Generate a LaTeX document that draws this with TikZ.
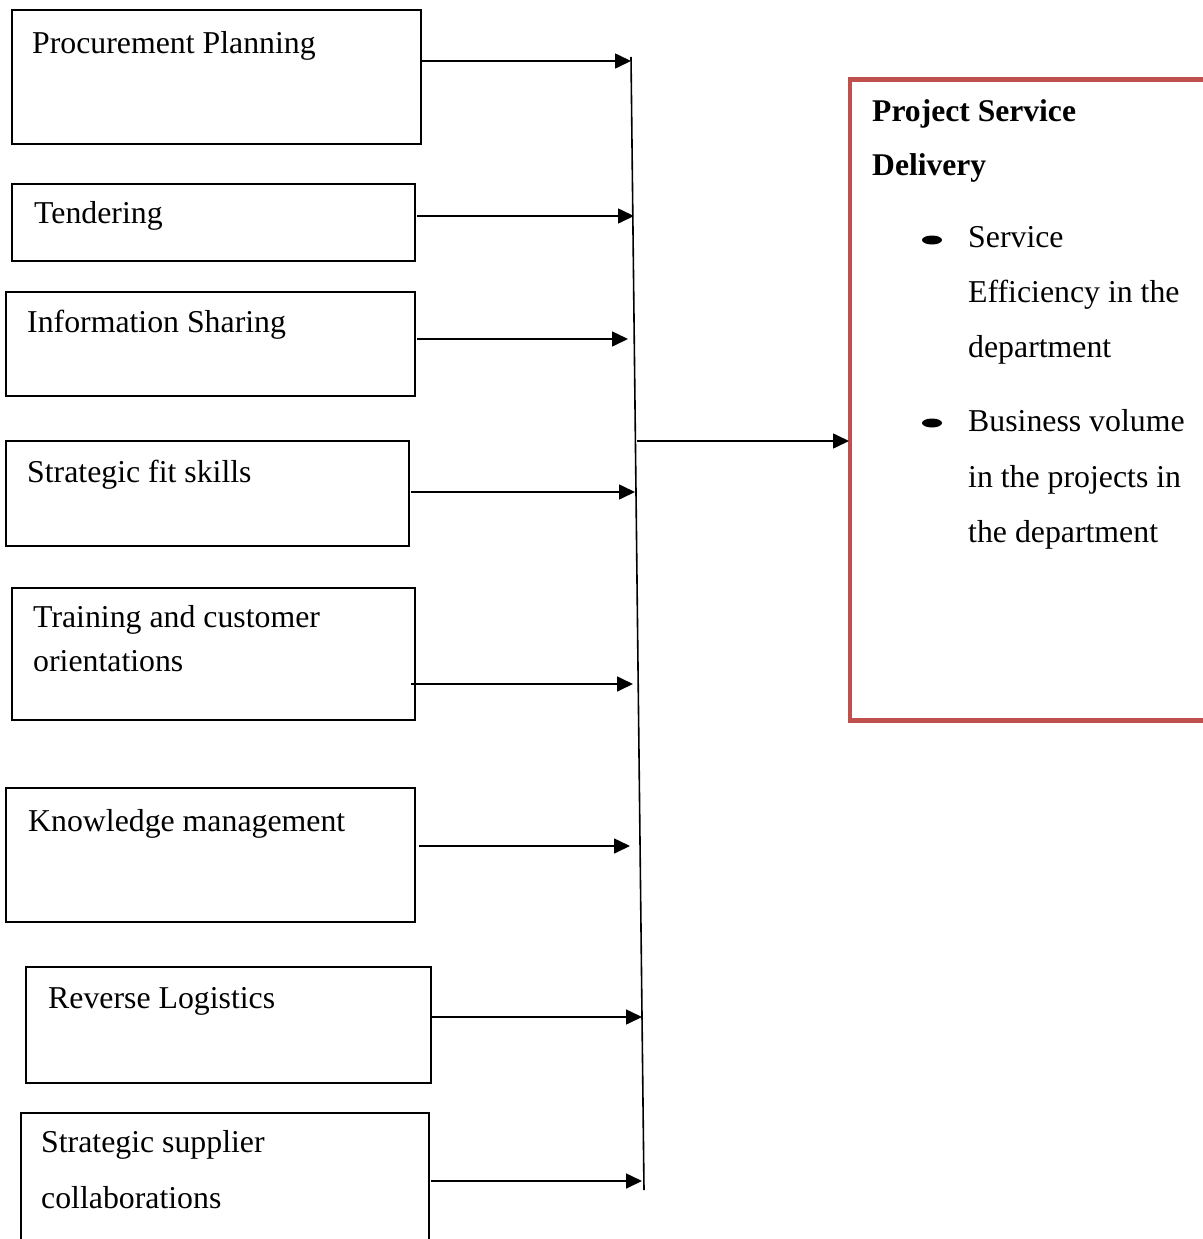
\documentclass[tikz,border=0pt]{standalone}
\usepackage{fontspec}
\setmainfont{Liberation Serif}
\usetikzlibrary{arrows.meta,shapes.geometric}
\definecolor{redbox}{HTML}{C0504D}
\begin{document}
\begin{tikzpicture}[x=1pt,y=-1pt,
 box/.style={draw,line width=1.6pt,rectangle,inner sep=0,outer sep=0,anchor=north west},
 txt/.style={anchor=base west,inner sep=0,font=\fontsize{31.8}{40}\selectfont},
 btxt/.style={anchor=base west,inner sep=0,font=\fontsize{31.6}{40}\selectfont\bfseries},
 arr/.style={line width=1.6pt,-{Triangle[length=16pt,width=15pt]}},
 bul/.style={ellipse,fill=black,minimum width=20pt,minimum height=9pt,inner sep=0}
]
\useasboundingbox (0,0) rectangle (1202,1239);
% boxes
\node[box,minimum width=409pt,minimum height=134pt] (b1) at (12,10) {};
\node[box,minimum width=403pt,minimum height=77pt] (b2) at (12,184) {};
\node[box,minimum width=409pt,minimum height=104pt] (b3) at (6,292) {};
\node[box,minimum width=403pt,minimum height=105pt] (b4) at (6,441) {};
\node[box,minimum width=403pt,minimum height=132pt] (b5) at (12,588) {};
\node[box,minimum width=409pt,minimum height=134pt] (b6) at (6,788) {};
\node[box,minimum width=405pt,minimum height=116pt] (b7) at (26,967) {};
\node[box,minimum width=408pt,minimum height=150pt] (b8) at (21,1113) {};
% texts
\node[txt] (t1) at (32,53) {Procurement Planning};
\node[txt] (t2) at (34,223) {Tendering};
\node[txt] (t3) at (27,332) {Information Sharing};
\node[txt] (t4) at (27,482) {Strategic fit skills};
\node[txt] (t5a) at (33,627) {Training and customer};
\node[txt] (t5b) at (33,671) {orientations};
\node[txt] (t6) at (28,831) {Knowledge management};
\node[txt] (t7) at (48,1008) {Reverse Logistics};
\node[txt] (t8a) at (41,1152) {Strategic supplier};
\node[txt] (t8b) at (41,1208) {collaborations};
% vertical collector
\coordinate (vt) at (631,57);
\coordinate (vb) at (644,1190);
\draw[line width=1.6pt] (vt) -- (vb);
% arrow tips
\coordinate (a1) at (631,61);
\coordinate (a2) at (634,216);
\coordinate (a3) at (628,339);
\coordinate (a4) at (635,492);
\coordinate (a5) at (633,684);
\coordinate (a6) at (630,846);
\coordinate (a7) at (642,1017);
\coordinate (a8) at (642,1181);
\draw[arr] ([xshift=-1pt]b1.east |- a1) -- (a1);
\draw[arr] ([xshift=2pt]b2.east |- a2) -- (a2);
\draw[arr] ([xshift=2pt]b3.east |- a3) -- (a3);
\draw[arr] ([xshift=2pt]b4.east |- a4) -- (a4);
\draw[arr] ([xshift=-4pt]b5.east |- a5) -- (a5);
\draw[arr] ([xshift=4pt]b6.east |- a6) -- (a6);
\draw[arr] (b7.east |- a7) -- (a7);
\draw[arr] ([xshift=2pt]b8.east |- a8) -- (a8);
% outcome box
\node[draw=redbox,line width=4.5pt,rectangle,inner sep=0,outer sep=0,anchor=north west,minimum width=370pt,minimum height=641pt] (out) at (850,79.5) {};
\coordinate (m) at (637,441);
\draw[arr] (m) -- ([xshift=-1pt]out.west |- m);
\node[btxt] (o1) at (872,121) {Project Service};
\node[btxt] (o2) at (872,175) {Delivery};
\node[bul] (d1) at (932,240) {};
\node[txt] (s1) at (968,247) {Service};
\node[txt] (s2) at (968,302) {Efficiency in the};
\node[txt] (s3) at (968,357) {department};
\node[bul] (d2) at (932,423) {};
\node[txt] (s4) at (968,431) {Business volume};
\node[txt] (s5) at (968,487) {in the projects in};
\node[txt] (s6) at (968,542) {the department};
\end{tikzpicture}
\end{document}
